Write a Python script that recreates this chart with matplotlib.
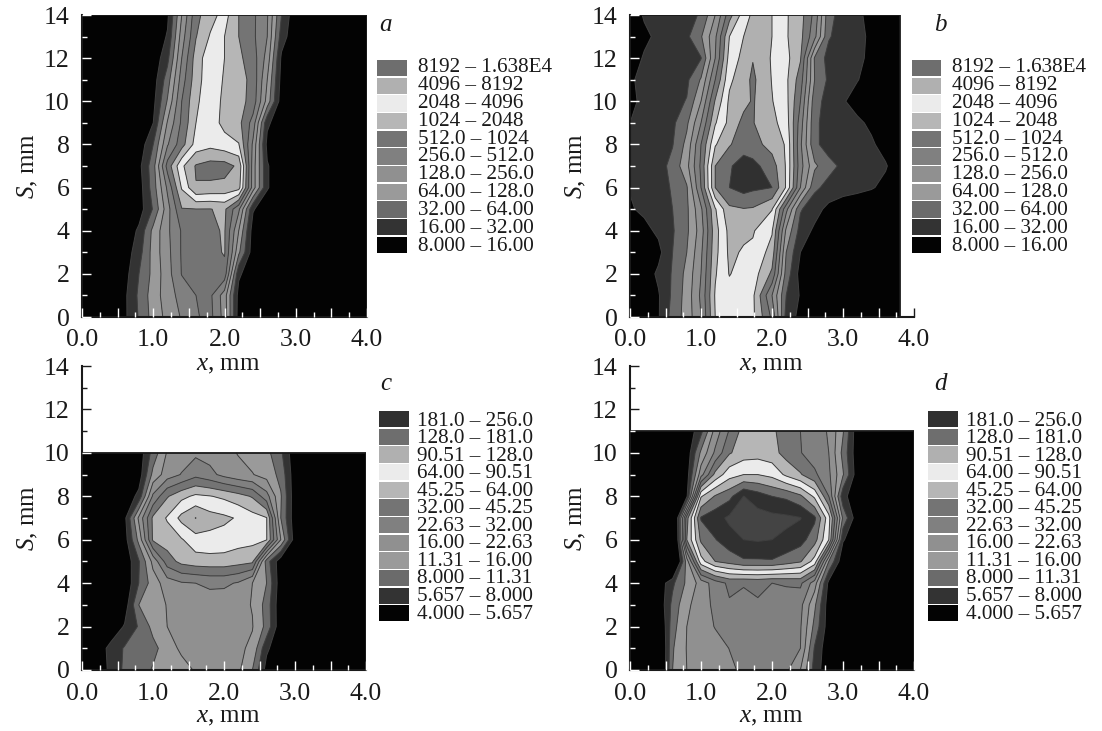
import numpy as np
import matplotlib
matplotlib.use("Agg")
import matplotlib.pyplot as plt
from matplotlib.patches import Rectangle
from matplotlib.ticker import MultipleLocator

plt.rcParams['font.family'] = ['Liberation Serif', 'DejaVu Serif']
plt.rcParams['mathtext.fontset'] = 'custom'
plt.rcParams['mathtext.it'] = 'Liberation Serif:italic'
plt.rcParams['mathtext.rm'] = 'Liberation Serif'

# band numbers: 3 is the lowest legend boundary, each step is one legend band
x_std = [0, .2, .4, .6, .8, 1.0, 1.2, 1.4, 1.6, 1.8, 2.0, 2.2, 2.4, 2.6, 2.8, 3.0, 3.2, 3.4, 3.6, 3.8, 4.0]
x_b = [0, .2, .4, .6, .8, 1.0, 1.2, 1.4, 1.6, 1.73, 2.0, 2.2, 2.4, 2.6, 2.8, 3.0, 3.2, 3.4, 3.6, 3.8]

z_a = [
 [3,3,3,3.8,5.1,6.4,7.3,8.1,8.9,9.3,7.6,3.5,3.2,3,3,3,3,3,3,3,3],
 [3,3,3,3.8,5.2,6.5,7.5,8.4,9.0,9.2,7.5,3.6,3.2,3,3,3,3,3,3,3,3],
 [3,3,3,3.6,5.0,6.3,7.6,9.05,9.3,9.4,9.6,4.2,3.2,3,3,3,3,3,3,3,3],
 [3,3,3,3.4,4.6,6.4,7.7,9.1,9.4,9.6,10.1,6.2,3.4,3,3,3,3,3,3,3,3],
 [3,3,3,3.2,4.2,6.3,7.8,9.1,9.5,9.8,10.1,7.0,3.5,3,3,3,3,3,3,3,3],
 [3,3,3,3,3.5,5.1,7.6,9.95,9.98,9.97,10.2,8.2,4.1,3.3,3,3,3,3,3,3,3],
 [3,3,3,3,3.5,5.5,8.2,11.1,12.95,12.8,12.7,12.4,7.5,4.1,3.2,3,3,3,3,3,3],
 [3,3,3,3,3.7,5.6,9.4,11.8,13.1,13.4,13.4,12.8,7.5,4.1,3.2,3,3,3,3,3,3],
 [3,3,3,3,3.3,5.0,7.9,9.6,11.4,11.7,11.4,11.05,7.8,3.7,3.2,3,3,3,3,3,3],
 [3,3,3,3,3.2,4.0,7.1,9.2,11.0,11.5,10.7,10.3,8.6,4.2,3.3,3,3,3,3,3,3],
 [3,3,3,3,3,3.7,6.1,9.0,10.85,11.5,10.8,10.4,9.6,6.6,3.4,3,3,3,3,3,3],
 [3,3,3,3,3,3.5,5.5,8.5,10.6,11.6,10.9,10.4,9.7,7.0,3.6,3,3,3,3,3,3],
 [3,3,3,3,3,3.3,4.7,8.0,10.5,11.6,11.0,10.2,9.5,7.6,3.8,3.2,3,3,3,3,3],
 [3,3,3,3,3,3.2,4.1,7.5,9.95,11.1,11.0,10.0,9.2,8.0,4.5,3.2,3,3,3,3,3],
 [3,3,3,3,3,3,3.8,7.0,9.7,10.6,11.4,10.0,9.2,8.1,5.0,3.2,3,3,3,3,3],
]

z_b = [
 [3,3.2,3.9,5.4,6.4,8.0,11.0,11.5,11.4,11.2,8.8,4.6,3.7,3.2,3,3,3,3,3,3],
 [3,3.3,3.9,5.2,6.4,8.2,11.1,11.6,11.5,11.2,8.0,5.0,3.9,3.3,3,3,3,3,3,3],
 [3.1,3.4,4.2,5.1,6.3,8.0,10.9,12.05,11.6,11.5,9.8,5.6,3.6,3.2,3,3,3,3,3,3],
 [3.1,3.3,3.7,5.0,6.0,7.8,10.7,12.2,11.9,11.8,10.6,6.0,4.0,3.4,3.2,3,3,3,3,3],
 [3.3,3.7,4.2,4.9,5.8,7.5,10.6,12.3,12.2,12.1,11.1,6.8,4.6,3.8,3.3,3.1,3,3,3,3],
 [3.9,4.2,4.4,5.0,5.8,7.8,10.9,12.8,12.95,12.9,12.05,8.3,5.1,4.4,3.7,3.3,3.2,3,3,3],
 [4.05,4.3,4.6,5.1,5.9,9.0,13.0,14.0,14.4,14.2,14.0,11.9,8.0,5.2,4.7,4.5,4.3,4.1,3.7,3.2],
 [4.1,4.3,4.6,5.3,6.7,9.2,13.0,13.9,14.4,14.3,13.5,11.9,8.4,6.2,5.3,4.8,4.6,4.4,4.1,3.3],
 [4.0,4.4,4.6,4.95,6.3,9.0,11.9,12.9,13.6,13.4,12.6,11.9,8.2,5.2,4.6,4.5,4.3,4.15,3.6,3.1],
 [4.0,4.3,4.5,4.8,5.8,8.0,10.9,12.3,13.3,13.05,12.3,11.5,8.5,5.2,4.6,4.4,4.2,3.8,3.3,3.1],
 [3.8,4.2,4.4,4.7,5.05,7.0,10.1,12.2,12.7,13.1,12.05,11.3,9.0,5.4,4.6,4.1,3.6,3.3,3.2,3.1],
 [3.9,4.2,4.3,4.5,4.8,6.1,9.0,11.8,12.6,13.2,11.95,11.2,9.5,6.0,4.8,4.5,4.05,3.6,3.2,3.1],
 [3.5,4.1,4.3,4.5,4.7,4.95,8.0,11.4,12.3,12.95,11.9,11.3,10.1,5.9,4.6,4.5,4.2,3.8,3.2,3.1],
 [3.3,3.8,4.2,4.5,4.8,5.9,7.8,11.0,12.0,12.3,12.0,11.1,10.3,8.3,5.1,4.5,4.3,3.8,3.3,3.1],
 [3.4,4.1,4.3,4.5,4.7,5.1,7.0,9.6,11.5,12.2,12.0,11.1,10.4,8.7,5.3,4.6,4.2,3.7,3.3,3.2],
]

z_c = [
 [3,3.3,4.2,5.2,5.5,6.1,6.4,6.6,7.1,7.3,7.3,7.2,6.0,3.6,3.2,3,3,3,3,3,3],
 [3,3.3,4.3,5.1,5.4,5.7,6.5,7.2,7.4,7.4,7.3,7.2,6.8,4.2,3.2,3,3,3,3,3,3],
 [3,3,3.2,4.1,5.1,6.3,7.0,7.2,7.3,7.4,7.4,7.3,7.05,5.7,3.2,3,3,3,3,3,3],
 [3,3,3,3.4,6.0,6.5,7.05,7.3,7.4,7.5,7.4,7.3,6.95,5.6,3.2,3,3,3,3,3,3],
 [3,3,3,3.1,5.0,6.5,7.5,7.9,8.0,8.2,8.2,7.9,7.0,6.0,3.3,3,3,3,3,3,3],
 [3,3,3,3.2,4.9,7.3,9.5,10.3,10.55,10.6,10.6,10.4,10.2,5.5,3.3,3,3,3,3,3,3],
 [3,3,3,3.5,6.3,10.15,10.5,10.9,11.6,11.7,11.6,11.4,11.3,11.05,7.0,3.4,3,3,3,3,3],
 [3,3,3,3.7,7.2,10.2,11.1,12.3,13.02,12.4,12.2,11.9,11.4,11.05,6.0,3.3,3,3,3,3,3],
 [3,3,3,3.2,4.3,8.2,9.9,10.7,11.2,11.05,10.8,10.4,9.9,8.4,6.1,3.3,3,3,3,3,3],
 [3,3,3,3,3.4,6.3,7.5,8.05,8.7,8.3,7.7,7.3,7.05,6.6,5.7,3.3,3,3,3,3,3],
 [3,3,3,3,3.3,5.4,7.1,7.5,7.8,7.6,7.3,6.95,6.6,6.3,5.2,3.2,3,3,3,3,3],
]

z_d = [
 [2,2,2,6.0,7.0,7.2,7.4,7.8,8.2,8.3,8.3,8.2,7.0,4.6,3.2,3,3,3,3,3,3],
 [2,2,2,5.9,7.05,7.3,7.6,8.02,8.4,8.4,8.3,8.2,8.0,4.9,3.2,3,3,3,3,3,3],
 [2,2,2.5,5.6,7.0,7.5,8.05,8.3,8.4,8.4,8.3,8.2,8.1,5.7,3.4,3,3,3,3,3,3],
 [3,3,3.1,5.3,6.8,7.5,8.25,8.9,8.6,8.9,8.6,8.5,8.3,6.2,3.4,3.2,3,3,3,3,3],
 [3,3,3.2,4.8,6.2,7.4,8.5,9.2,9.1,9.2,9.0,9.1,9.2,7.5,3.7,3.2,3,3,3,3,3],
 [3,3,3,1.0,6.5,11.6,13.0,13.4,13.85,13.85,13.9,13.5,13.1,11.6,6.0,3.2,3,3,3,3,3],
 [3,3,3,0.5,10.0,13.2,13.95,14.6,15.0,15.1,15.0,14.8,14.4,13.4,11.0,4.1,3.2,3,3,3,3],
 [3,3,3,1.0,9.6,14.1,14.6,15.2,15.6,15.4,15.3,15.2,15.05,14.2,11.4,5.8,3.3,3,3,3,3],
 [3,3,3,3,3.8,11.9,13.1,13.7,15.02,14.5,14.0,13.8,13.2,11.8,9.0,4.3,3.3,3,3,3,3],
 [3,3,3,3,3.5,7.6,10.3,11.6,12.0,12.0,11.7,10.8,10.1,9.2,8.2,6.1,3.4,3,3,3,3],
 [3,3,3,3,3.3,6.2,8.2,9.9,10.5,10.6,10.4,9.6,9.05,8.5,8.0,5.7,3.3,3,3,3,3],
 [3,3,3,3,3.2,4.7,7.4,9.1,10.4,10.5,10.2,9.5,9.0,8.5,7.9,6.1,3.3,3,3,3,3],
]

S_a = list(range(15))
S_b = list(range(15))
S_c = list(range(11))
S_d = list(range(12))

labels_ab = ['8192 – 1.638E4', '4096 – 8192', '2048 – 4096', '1024 – 2048', '512.0 – 1024',
             '256.0 – 512.0', '128.0 – 256.0', '64.00 – 128.0', '32.00 – 64.00',
             '16.00 – 32.00', '8.000 – 16.00']
labels_cd = ['181.0 – 256.0', '128.0 – 181.0', '90.51 – 128.0', '64.00 – 90.51', '45.25 – 64.00',
             '32.00 – 45.25', '22.63 – 32.00', '16.00 – 22.63', '11.31 – 16.00',
             '8.000 – 11.31', '5.657 – 8.000', '4.000 – 5.657']

# colours for bands 3-4, 4-5, ... upward
band_colors = ['#030303', '#333333', '#6b6b6b', '#9a9a9a', '#909090', '#808080', '#747474',
               '#b6b6b6', '#ebebeb', '#b0b0b0', '#6e6e6e', '#303030', '#444444']
levels = list(range(3, 17))

W, H = 1102, 731
fig = plt.figure(figsize=(W / 100, H / 100), dpi=100)
fig.patch.set_facecolor('white')


def add_ax(l, r, t, b):
    return fig.add_axes([l / W, 1 - b / H, (r - l) / W, (b - t) / H])


def panel(box, x, S, z, letter, letter_xy, sw_x, txt_x, sw_top, labels, xlabel_xy, txt_top, txt_pitch):
    ax = add_ax(*box)
    ax.set_xlim(0, 4)
    ax.set_ylim(0, 14)
    ax.patch.set_alpha(0)
    ax.set_axisbelow(False)
    ax.add_patch(Rectangle((x[0], S[0]), x[-1] - x[0], S[-1] - S[0], fc='#030303', ec='none', zorder=0))
    ax.contourf(x, S, z, levels=levels, colors=band_colors, zorder=1, antialiased=True)
    ax.contour(x, S, z, levels=levels[1:], colors='#404040', linewidths=0.7, zorder=2)
    ax.add_patch(Rectangle((x[0], S[0]), x[-1] - x[0], S[-1] - S[0], fc='none', ec='#1a1a1a', lw=1.3, zorder=2.2))
    for s in ('top', 'right'):
        ax.spines[s].set_visible(False)
    for s in ('left', 'bottom'):
        ax.spines[s].set_linewidth(1.5)
        ax.spines[s].set_color('#1a1a1a')
    ax.xaxis.set_minor_locator(MultipleLocator(0.25))
    ax.yaxis.set_major_locator(MultipleLocator(2))
    ax.yaxis.set_minor_locator(MultipleLocator(1))
    ax.set_xticks([0, .5, 1, 1.5, 2, 2.5, 3, 3.5, 4])
    ax.set_xticklabels(['0.0', '', '1.0', '', '2.0', '', '3.0', '', '4.0'])
    ax.tick_params(axis='both', which='major', direction='in', length=6.5, width=1.0, labelsize=18.5,
                   colors='#1a1a1a', top=False, right=False)
    ax.tick_params(axis='both', which='minor', direction='in', length=3.8, width=1.0,
                   top=False, right=False)
    ax.tick_params(axis='x', which='major', pad=9)
    ax.tick_params(axis='y', which='major', pad=9)
    for axis, limit in ((ax.xaxis, x[-1]), (ax.yaxis, S[-1])):
        for locs, ticks in ((axis.get_majorticklocs(), axis.get_major_ticks()),
                            (axis.get_minorticklocs(), axis.get_minor_ticks())):
            for loc, t in zip(locs, ticks):
                t.tick1line.set_markeredgecolor('white' if loc <= limit else '#1a1a1a')

    ax.text(-0.19, 0.5, r'$\mathit{S}$, mm', transform=ax.transAxes, rotation=90,
            ha='center', va='center', fontsize=18, color='#1a1a1a')
    fig.text(xlabel_xy[0] / W, 1 - xlabel_xy[1] / H, r'$\mathit{x}$, mm', ha='center', va='center',
             fontsize=18, color='#1a1a1a')
    fig.text(letter_xy[0] / W, 1 - letter_xy[1] / H, letter, style='italic', ha='center', va='center',
             fontsize=18, color='#1a1a1a')

    # legend
    n = len(labels)
    pitch = 17.65
    for i, lab in enumerate(labels):
        band = n - 1 - i
        y0 = sw_top + i * pitch
        fig.add_artist(Rectangle((sw_x / W, 1 - (y0 + 16.3) / H), 29.5 / W, 16.3 / H,
                                 transform=fig.transFigure, fc=band_colors[band], ec='none'))
        fig.text(txt_x / W, 1 - (txt_top + i * txt_pitch) / H, lab, ha='left', va='center',
                 fontsize=15.2, color='#1a1a1a')
    return ax


panel((82, 367, 15, 317), x_std, S_a, z_a, 'a', (386, 25), 377, 418, 60, labels_ab, (228, 365), 67.7, 17.85)
panel((630, 914, 15, 317), x_b, S_b, z_b, 'b', (940, 25), 912, 952, 60, labels_ab, (771, 365), 67.7, 17.85)
panel((82, 366, 366, 670), x_std, S_c, z_c, 'c', (386, 384), 379, 417, 411, labels_cd, (228, 717), 421, 17.55)
panel((630, 914, 366, 670), x_std, S_d, z_d, 'd', (940, 384), 928, 966, 411, labels_cd, (771, 717), 421, 17.55)

fig.savefig('out.png', dpi=100)
